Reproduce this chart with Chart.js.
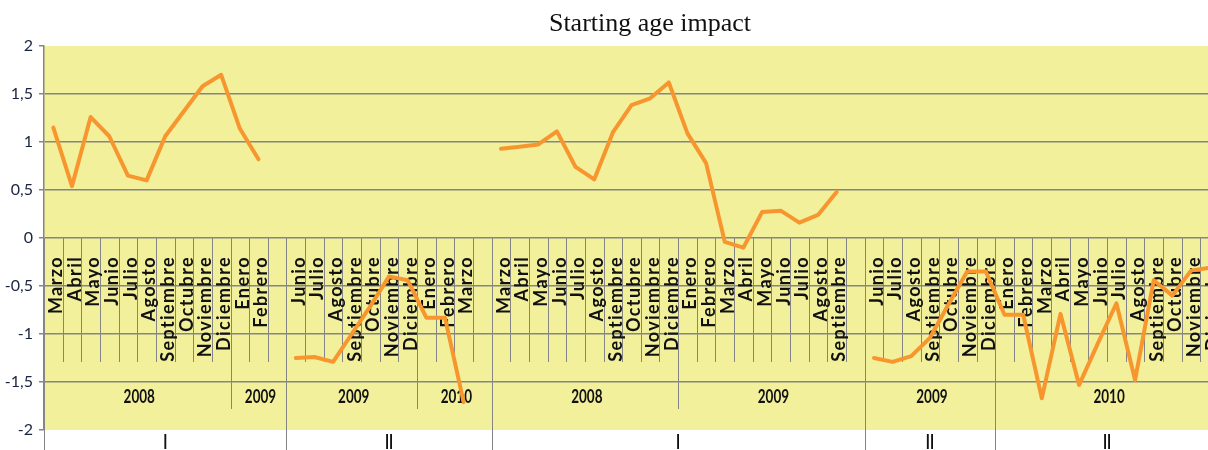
<!DOCTYPE html>
<html>
<head>
<meta charset="utf-8">
<title>Starting age impact</title>
<script src="https://cdn.jsdelivr.net/npm/chart.js@4"></script>
<style>
  html, body { margin: 0; padding: 0; background: #fff; overflow: hidden; }
  #wrap { width: 1208px; height: 450px; overflow: hidden; }
</style>
</head>
<body>
<div id="wrap">
  <canvas id="impactChart" width="1300" height="450"></canvas>
</div>
<script>
// month labels, one per category ("" = empty slot at the end of a block)
const monthLabels = [
  "Marzo", "Abril", "Mayo", "Junio", "Julio", "Agosto", "Septiembre", "Octubre", "Noviembre", "Diciembre",
  "Enero", "Febrero", "",
  "Junio", "Julio", "Agosto", "Septiembre", "Octubre", "Noviembre", "Diciembre",
  "Enero", "Febrero", "Marzo", "",
  "Marzo", "Abril", "Mayo", "Junio", "Julio", "Agosto", "Septiembre", "Octubre", "Noviembre", "Diciembre",
  "Enero", "Febrero", "Marzo", "Abril", "Mayo", "Junio", "Julio", "Agosto", "Septiembre", "",
  "Junio", "Julio", "Agosto", "Septiembre", "Octubre", "Noviembre", "Diciembre",
  "Enero", "Febrero", "Marzo", "Abril", "Mayo", "Junio", "Julio", "Agosto", "Septiembre", "Octubre", "Noviembre", "Diciembre"
];

const yearLabels = ["2008", "2009", "2009", "2010", "2008", "2009", "2009", "2010"];
const yearCounts = [10, 3, 7, 4, 10, 10, 7, 12];

const groupLabels = ["I", "II", "I", "II", "II"];
const groupCounts = [13, 11, 20, 7, 12];

const impact = [
  1.15, 0.54, 1.26, 1.06, 0.65, 0.60, 1.06, 1.32, 1.58, 1.70, 1.14, 0.82, null,
  -1.25, -1.24, -1.29, -1.00, -0.71, -0.40, -0.44, -0.83, -0.83, -1.71, null,
  0.93, 0.95, 0.975, 1.11, 0.74, 0.61, 1.10, 1.385, 1.455, 1.62,
  1.09, 0.78, -0.04, -0.10, 0.27, 0.285, 0.16, 0.24, 0.48, null,
  -1.25, -1.29, -1.23, -1.04, -0.69, -0.35, -0.35,
  -0.80, -0.80, -1.67, -0.79, -1.53, -1.10, -0.68, -1.48, -0.44, -0.60, -0.34, -0.31
];

const yTicks = [-2, -1.5, -1, -0.5, 0, 0.5, 1, 1.5, 2];

const gridGrey = "#858585";
const plotYellow = "#F3F09B";

// yellow plot background
const plotBackground = {
  id: "plotBackground",
  beforeDraw(chart) {
    const { ctx, chartArea } = chart;
    ctx.save();
    ctx.fillStyle = plotYellow;
    ctx.fillRect(chartArea.left, chartArea.top, chartArea.right - chartArea.left, chartArea.bottom - chartArea.top);
    ctx.restore();
  }
};

// multi-level category axis sitting on the zero line
const categoryAxis = {
  id: "categoryAxis",
  beforeDatasetsDraw(chart) {
    const { ctx, scales } = chart;
    const x = scales.x;
    const y = scales.y;
    const y0 = Math.round(y.getPixelForValue(0));
    const w = x.width / monthLabels.length;
    const edge = i => x.getPixelForValue(i) - w / 2;
    const crisp = v => Math.round(v) + 0.5;
    const vline = (px, y1, y2) => {
      ctx.beginPath();
      ctx.moveTo(crisp(px), y1);
      ctx.lineTo(crisp(px), y2);
      ctx.stroke();
    };

    ctx.save();
    ctx.strokeStyle = gridGrey;
    ctx.lineWidth = 1;

    // month separators
    for (let i = 0; i <= monthLabels.length; i++) {
      vline(edge(i), y0, y0 + 124);
    }

    // year separators and labels
    let k = 0;
    ctx.fillStyle = "#111";
    ctx.font = "bold 18px Lato";
    ctx.textAlign = "center";
    ctx.textBaseline = "middle";
    yearCounts.forEach((n, j) => {
      const a = edge(k);
      const b = edge(k + n);
      vline(a, y0, 409);
      vline(b, y0, 409);
      ctx.save();
      ctx.translate((a + b) / 2 + 2, 397);
      ctx.scale(0.75, 1);
      ctx.fillText(yearLabels[j], 0, 0);
      ctx.restore();
      k += n;
    });

    // group separators and labels
    k = 0;
    ctx.font = "bold 20px Lato";
    ctx.textBaseline = "alphabetic";
    groupCounts.forEach((n, j) => {
      const a = edge(k);
      const b = edge(k + n);
      vline(a, y0, 450);
      vline(b, y0, 450);
      ctx.save();
      ctx.translate((a + b) / 2, 449);
      ctx.scale(0.7, 1);
      ctx.fillText(groupLabels[j], 0, 0);
      ctx.restore();
      k += n;
    });

    // rotated month names
    ctx.font = "bold 18px Lato";
    ctx.letterSpacing = "1.4px";
    ctx.fillStyle = "#111";
    ctx.textAlign = "right";
    ctx.textBaseline = "alphabetic";
    monthLabels.forEach((m, i) => {
      if (!m) return;
      ctx.save();
      ctx.translate(edge(i + 1) - 0.5, y0 + 18);
      ctx.rotate(-Math.PI / 2);
      ctx.fillText(m, 0, 0);
      ctx.restore();
    });
    ctx.restore();
  }
};

const ctx = document.getElementById("impactChart");
new Chart(ctx, {
  type: "line",
  data: {
    labels: monthLabels,
    datasets: [{
      label: "Starting age impact",
      data: impact,
      borderColor: "#F7962F",
      borderWidth: 4,
      borderJoinStyle: "round",
      borderCapStyle: "round",
      pointRadius: 0,
      tension: 0,
      spanGaps: false
    }]
  },
  options: {
    responsive: false,
    animation: false,
    devicePixelRatio: 1,
    layout: { padding: { left: 0, right: 0, top: 0, bottom: 20 } },
    plugins: {
      legend: { display: false },
      tooltip: { enabled: false },
      title: {
        display: true,
        text: "Starting age impact",
        color: "#111",
        font: { family: "'Liberation Serif', 'Times New Roman', serif", size: 26, weight: "normal" },
        padding: { top: 9, bottom: 5.8 }
      }
    },
    scales: {
      x: {
        type: "category",
        offset: true,
        display: false
      },
      y: {
        min: -2,
        max: 2,
        afterBuildTicks: scale => {
          scale.ticks = yTicks.map(v => ({ value: v }));
        },
        afterFit: scale => {
          scale.width = 44;
        },
        ticks: {
          padding: 6,
          color: "#1a2440",
          font: { family: "Lato", size: 16 },
          callback: v => String(v).replace(".", ",")
        },
        grid: {
          color: c => (Math.abs(c.tick.value) === 2 ? "rgba(0,0,0,0)" : gridGrey),
          tickColor: gridGrey,
          tickLength: 5,
          lineWidth: 1.5
        },
        border: { display: true, color: gridGrey, width: 1.5 }
      },
      // empty spacer on the right so the plot ends past the picture edge
      spacer: {
        type: "linear",
        position: "right",
        display: true,
        grid: { display: false },
        border: { display: false },
        ticks: { display: false },
        afterFit: scale => {
          scale.width = 81;
        }
      }
    }
  },
  plugins: [plotBackground, categoryAxis]
});
</script>
</body>
</html>
